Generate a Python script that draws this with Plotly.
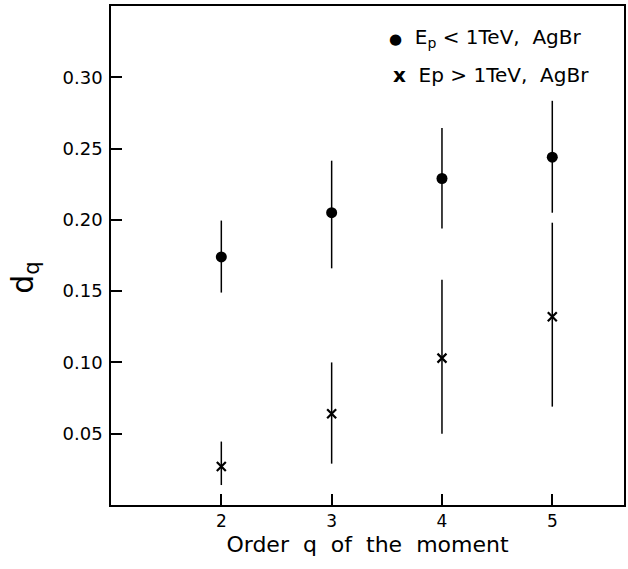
import plotly.graph_objects as go

q = [2, 3, 4, 5]

# E_p < 1 TeV, AgBr (filled circles)
low_val = [0.174, 0.205, 0.229, 0.244]
low_up = [0.0255, 0.0365, 0.0355, 0.0395]
low_dn = [0.025, 0.039, 0.035, 0.039]

# E_p > 1 TeV, AgBr (crosses)
high_val = [0.027, 0.064, 0.103, 0.132]
high_up = [0.0175, 0.036, 0.055, 0.066]
high_dn = [0.013, 0.035, 0.053, 0.063]

y_ticks = [0.05, 0.10, 0.15, 0.20, 0.25, 0.30]
x_ticks = [2, 3, 4, 5]

font_family = "DejaVu Sans, sans-serif"

fig = go.Figure()
fig.add_trace(go.Scatter(
    x=q, y=low_val, mode="markers",
    marker=dict(symbol="circle", size=11, color="black"),
    error_y=dict(type="data", symmetric=False, array=low_up, arrayminus=low_dn,
                 width=0, thickness=1.5, color="black"),
    showlegend=False,
))
fig.add_trace(go.Scatter(
    x=q, y=high_val, mode="markers",
    marker=dict(symbol="x-thin", size=9, color="black",
                line=dict(width=2.2, color="black")),
    error_y=dict(type="data", symmetric=False, array=high_up, arrayminus=high_dn,
                 width=0, thickness=1.5, color="black"),
    showlegend=False,
))

# legend as annotations
fig.add_annotation(xref="paper", yref="paper", x=0.538, y=0.935, xanchor="left",
                   yanchor="middle", showarrow=False,
                   text="<span style='font-size:15px'>●</span>  E<sub>p</sub> < 1TeV,  AgBr",
                   font=dict(family=font_family, size=20, color="black"))
fig.add_annotation(xref="paper", yref="paper", x=0.546, y=0.862, xanchor="left",
                   yanchor="middle", showarrow=False,
                   text="<b>x</b>  Ep > 1TeV,  AgBr",
                   font=dict(family=font_family, size=20, color="black"))

# y-axis title
fig.add_annotation(xref="paper", yref="paper", x=-0.168, y=0.455, xanchor="center",
                   yanchor="middle", showarrow=False, textangle=-90,
                   text="d<sub>q</sub>",
                   font=dict(family=font_family, size=30, color="black"))

fig.update_xaxes(
    range=[1.0, 5.65], tickvals=x_ticks, ticktext=[str(v) for v in x_ticks],
    ticks="inside", ticklen=11, tickwidth=1.5, tickcolor="black",
    showline=True, linewidth=1.5, linecolor="black", mirror=True,
    showgrid=False, zeroline=False,
    tickfont=dict(family=font_family, size=17, color="black"),
    title=dict(text="Order  q  of  the  moment", standoff=6,
               font=dict(family=font_family, size=22, color="black")),
)
fig.update_yaxes(
    range=[0.0, 0.35], tickvals=y_ticks, ticktext=[f"{v:.2f}" for v in y_ticks],
    ticks="inside", ticklen=11, tickwidth=1.5, tickcolor="black",
    showline=True, linewidth=1.5, linecolor="black", mirror=True,
    showgrid=False, zeroline=False,
    tickfont=dict(family=font_family, size=18, color="black"),
    ticklabelstandoff=3,
)
fig.update_layout(
    width=628, height=569,
    margin=dict(l=111, r=2, t=6, b=64),
    plot_bgcolor="white", paper_bgcolor="white",
)
fig.write_html("out.html")
